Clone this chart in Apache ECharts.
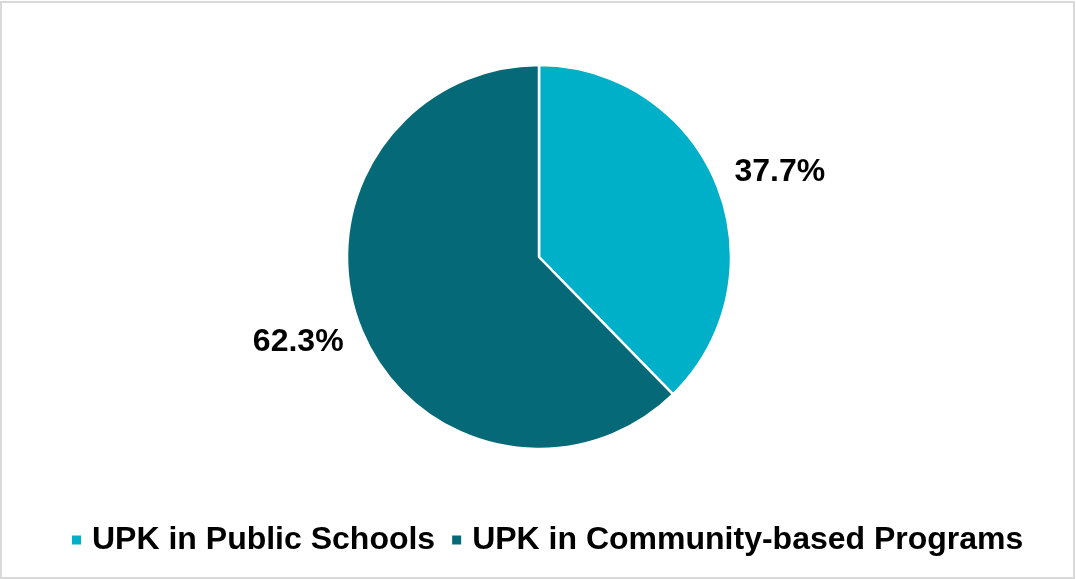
<!DOCTYPE html>
<html>
<head>
<meta charset="utf-8">
<script src="https://cdn.jsdelivr.net/npm/echarts@6/dist/echarts.min.js"></script>
<style>
  html, body { margin: 0; padding: 0; background: #fff; }
  #frame { position: absolute; left: 0; top: 1px; width: 1075px; height: 578px; box-sizing: border-box; border: 2px solid #d9d9d9; }
  #chart { position: absolute; left: 0; top: 0; width: 1076px; height: 579px; }
</style>
</head>
<body>
<div id="frame"></div>
<div id="chart"></div>
<script>
const categories = ['UPK in Public Schools', 'UPK in Community-based Programs'];
const values = [37.7, 62.3];
const colors = ['#00B0C8', '#066977'];

const chart = echarts.init(document.getElementById('chart'), null, { renderer: 'canvas' });
chart.setOption({
  animation: false,
  color: colors,
  legend: {
    top: 519,
    left: 65,
    itemWidth: 11,
    itemHeight: 11,
    itemGap: 15,
    icon: 'rect',
    textStyle: { fontFamily: 'Liberation Sans, Arial, sans-serif', fontWeight: 'bold', fontSize: 32, color: '#000', padding: [0, 0, 0, 5] },
    data: categories
  },
  series: [{
    type: 'pie',
    center: [539, 257],
    radius: [0, 192],
    startAngle: 90,
    clockwise: true,
    avoidLabelOverlap: false,
    itemStyle: { borderColor: '#fff', borderWidth: 2.5 },
    label: {
      show: true,
      position: 'outside',
      formatter: p => p.value.toFixed(1) + '%',
      fontFamily: 'Liberation Sans, Arial, sans-serif',
      fontWeight: 'bold',
      fontSize: 32,
      color: '#000',
      distanceToLabelLine: -13
    },
    labelLine: { show: false, length: 33, length2: 0 },
    emphasis: { disabled: true },
    data: categories.map((c, i) => ({ name: c, value: values[i] }))
  }]
});
</script>
</body>
</html>
